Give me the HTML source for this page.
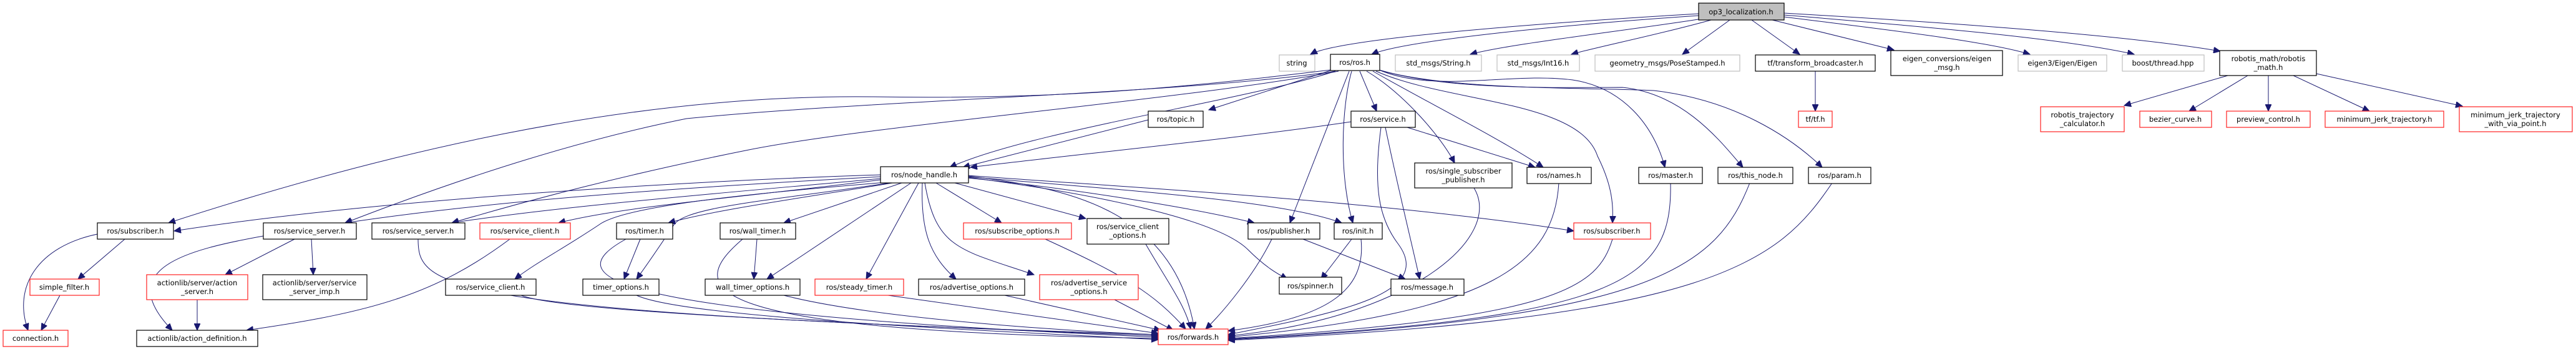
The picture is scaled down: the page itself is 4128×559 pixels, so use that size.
<!DOCTYPE html>
<html><head><meta charset="utf-8"><style>
html,body{margin:0;padding:0;background:#fff;}
svg{display:block;}
text{font-family:"DejaVu Sans","Liberation Sans",sans-serif;font-size:11.5px;fill:#000;text-anchor:middle;}
.k{fill:#fff;stroke:#000;stroke-width:1.2;}
.r{fill:#fff;stroke:#ff2020;stroke-width:1.2;}
.g{fill:#fff;stroke:#bfbfbf;stroke-width:1.2;}
.o{fill:#bfbfbf;stroke:#000;stroke-width:1.2;}
path.e{fill:none;stroke:#191970;stroke-width:1;marker-end:url(#a);}
</style></head><body>
<svg width="4128" height="559" viewBox="0 0 4128 559" xmlns="http://www.w3.org/2000/svg">
<defs><marker id="a" markerUnits="userSpaceOnUse" markerWidth="12" markerHeight="10" refX="11" refY="5" orient="auto"><path d="M0,0 L11,5 L0,10 z" fill="#191970" stroke="#191970"/></marker></defs>

<!-- edges from op3 -->
<path class="e" d="M2722,22 C2500,35 2150,60 2100,87"/>
<path class="e" d="M2722,25 C2500,40 2250,65 2198,87"/>
<path class="e" d="M2728,30 C2600,50 2420,70 2356,87"/>
<path class="e" d="M2742,32 C2660,55 2560,75 2518,87"/>
<path class="e" d="M2772,32 L2696,87"/>
<path class="e" d="M2807,32 L2884,87"/>
<path class="e" d="M2840,32 L3035,80"/>
<path class="e" d="M2859,27 C3000,45 3180,65 3253,87"/>
<path class="e" d="M2859,24 C3050,40 3300,60 3420,87"/>
<path class="e" d="M2859,21 C3100,35 3400,55 3558,82"/>
<path class="e" d="M2909,114 L2909,178"/>
<!-- robotis_math children -->
<path class="e" d="M3570,121 L3404,169"/>
<path class="e" d="M3602,121 L3508,178"/>
<path class="e" d="M3635,121 L3635,178"/>
<path class="e" d="M3675,121 L3797,178"/>
<path class="e" d="M3712,118 L3946,170"/>

<!-- ros.h children -->
<path class="e" d="M2179,114 L2206,178"/>
<path class="e" d="M2190,114 C2250,150 2310,220 2331,261"/>
<path class="e" d="M2200,114 C2280,160 2400,220 2473,268"/>
<path class="e" d="M2205,114 C2320,165 2530,160 2560,250 C2585,300 2585,330 2584,357"/>
<path class="e" d="M2210,112 C2300,150 2420,115 2520,128 C2600,140 2650,200 2668,268"/>
<path class="e" d="M2210,112 C2320,145 2500,140 2600,140 C2700,150 2760,230 2793,268"/>
<path class="e" d="M2210,112 C2320,145 2550,140 2650,145 C2780,160 2870,220 2920,268"/>
<path class="e" d="M2166,114 C2150,170 2145,280 2168,357"/>
<path class="e" d="M2162,114 L2067,357"/>
<path class="e" d="M2132,113 L1937,176"/>
<path class="e" d="M2140,114 C2000,160 1650,210 1522,268"/>
<path class="e" d="M2132,112 C1900,140 1700,160 1400,155 C1000,150 600,250 270,357"/>
<path class="e" d="M2140,114 C1900,150 1400,160 1100,190 C900,230 700,300 553,357"/>
<path class="e" d="M2145,114 C1900,160 1400,200 1200,240 C1000,280 850,320 724,357"/>
<!-- topic, service -->
<path class="e" d="M1840,192 L1543,268"/>
<path class="e" d="M2165,195 C2000,220 1700,250 1555,268"/>
<path class="e" d="M2255,204 L2460,268"/>
<path class="e" d="M2220,204 C2240,300 2260,380 2275,447"/>
<path class="e" d="M2213,204 C2200,300 2210,350 2240,390 C2300,470 2150,500 1968,536"/>
<path class="e" d="M2362,301 C2410,380 2260,510 1968,538"/>
<path class="e" d="M2498,293 C2490,420 2400,500 1968,540"/>
<path class="e" d="M2584,383 C2560,460 2500,510 1968,542"/>
<path class="e" d="M2677,293 C2680,450 2600,510 1968,543"/>
<path class="e" d="M2804,293 C2750,430 2650,510 1968,544"/>
<path class="e" d="M2936,293 C2850,420 2750,510 1968,545"/>
<!-- init, publisher -->
<path class="e" d="M2166,383 L2117,447"/>
<path class="e" d="M2181,383 C2190,470 2120,510 1968,530"/>
<path class="e" d="M2088,383 L2252,447"/>
<path class="e" d="M2038,383 C2010,440 1960,500 1932,527"/>

<!-- node_handle children -->
<path class="e" d="M1411,280 C1100,290 600,320 279,370"/>
<path class="e" d="M1411,283 C1100,300 800,320 553,357"/>
<path class="e" d="M1411,286 C1150,310 900,330 724,357"/>
<path class="e" d="M1411,288 C1200,315 1000,330 895,357"/>
<path class="e" d="M1420,292 C1200,310 1000,330 960,360 C900,400 860,420 825,447"/>
<path class="e" d="M1430,293 C1300,315 1150,335 1071,357"/>
<path class="e" d="M1425,293 C1250,320 1100,330 1080,360 C1060,390 1040,420 1020,447"/>
<path class="e" d="M1445,293 L1256,357"/>
<path class="e" d="M1460,293 L1229,447"/>
<path class="e" d="M1472,293 L1388,447"/>
<path class="e" d="M1478,293 C1475,370 1490,410 1532,447"/>
<path class="e" d="M1482,293 C1500,400 1540,400 1657,440"/>
<path class="e" d="M1500,293 L1605,357"/>
<path class="e" d="M1530,293 L1740,350"/>
<path class="e" d="M1551,285 C1700,300 1900,330 2010,357"/>
<path class="e" d="M1551,282 C1700,300 1880,330 1914,527"/>
<path class="e" d="M1551,281 C1800,300 2200,320 2522,370"/>
<path class="e" d="M1551,283 C1800,305 2050,320 2150,357"/>
<path class="e" d="M1551,284 C1750,310 1950,350 2000,400 C2030,430 2050,440 2063,447"/>

<!-- lower-left -->
<path class="e" d="M200,383 L125,447"/>
<path class="e" d="M156,375 C60,395 20,460 45,529"/>
<path class="e" d="M96,473 L66,529"/>
<path class="e" d="M472,383 L361,440"/>
<path class="e" d="M499,383 L502,440"/>
<path class="e" d="M422,378 C300,400 180,430 276,529"/>
<path class="e" d="M316,480 L316,529"/>
<path class="e" d="M817,383 C700,470 600,500 395,529"/>
<path class="e" d="M670,383 C670,460 700,500 1856,536"/>
<path class="e" d="M835,473 C900,500 1400,520 1856,538"/>
<path class="e" d="M1026,383 L1000,447"/>
<path class="e" d="M1003,383 C900,440 930,500 1856,540"/>
<path class="e" d="M1213,383 L1208,447"/>
<path class="e" d="M1190,383 C1100,460 1100,530 1856,542"/>
<path class="e" d="M1020,473 C1100,510 1600,530 1856,544"/>
<path class="e" d="M1256,473 C1400,510 1700,530 1856,536"/>
<path class="e" d="M1423,473 L1856,534"/>
<path class="e" d="M1610,473 L1860,529"/>
<path class="e" d="M1786,480 L1880,529"/>
<path class="e" d="M1675,383 C1800,440 1850,470 1900,527"/>
<path class="e" d="M1836,391 C1870,450 1900,490 1908,527"/>

<!-- nodes -->
<g>
<rect class="o" x="2722" y="5" width="137" height="27"/><text x="2790" y="23">op3_localization.h</text>
<rect class="g" x="2050" y="88" width="57" height="26"/><text x="2078" y="105">string</text>
<rect class="k" x="2132" y="87" width="79" height="26"/><text x="2171" y="104">ros/ros.h</text>
<rect class="g" x="2236" y="88" width="138" height="26"/><text x="2305" y="105">std_msgs/String.h</text>
<rect class="g" x="2399" y="88" width="132" height="26"/><text x="2465" y="105">std_msgs/Int16.h</text>
<rect class="g" x="2556" y="88" width="232" height="26"/><text x="2672" y="105">geometry_msgs/PoseStamped.h</text>
<rect class="k" x="2813" y="88" width="192" height="26"/><text x="2909" y="105">tf/transform_broadcaster.h</text>
<rect class="k" x="3030" y="81" width="179" height="40"/><text x="3120" y="98">eigen_conversions/eigen</text><text x="3120" y="112">_msg.h</text>
<rect class="g" x="3234" y="88" width="142" height="26"/><text x="3305" y="105">eigen3/Eigen/Eigen</text>
<rect class="g" x="3401" y="88" width="131" height="26"/><text x="3466" y="105">boost/thread.hpp</text>
<rect class="k" x="3557" y="81" width="155" height="40"/><text x="3635" y="98">robotis_math/robotis</text><text x="3635" y="112">_math.h</text>
<rect class="r" x="2882" y="178" width="54" height="26"/><text x="2909" y="195">tf/tf.h</text>
<rect class="r" x="3270" y="171" width="134" height="40"/><text x="3337" y="188">robotis_trajectory</text><text x="3337" y="202">_calculator.h</text>
<rect class="r" x="3429" y="178" width="115" height="26"/><text x="3486" y="195">bezier_curve.h</text>
<rect class="r" x="3568" y="178" width="134" height="26"/><text x="3635" y="195">preview_control.h</text>
<rect class="r" x="3726" y="178" width="190" height="26"/><text x="3821" y="195">minimum_jerk_trajectory.h</text>
<rect class="r" x="3941" y="171" width="181" height="40"/><text x="4031" y="188">minimum_jerk_trajectory</text><text x="4031" y="202">_with_via_point.h</text>
<rect class="k" x="1840" y="178" width="88" height="26"/><text x="1884" y="195">ros/topic.h</text>
<rect class="k" x="2165" y="178" width="103" height="26"/><text x="2216" y="195">ros/service.h</text>
<rect class="k" x="1411" y="267" width="141" height="26"/><text x="1481" y="284">ros/node_handle.h</text>
<rect class="k" x="2267" y="261" width="156" height="40"/><text x="2345" y="278">ros/single_subscriber</text><text x="2345" y="292">_publisher.h</text>
<rect class="k" x="2447" y="268" width="103" height="26"/><text x="2498" y="285">ros/names.h</text>
<rect class="k" x="2626" y="268" width="102" height="26"/><text x="2677" y="285">ros/master.h</text>
<rect class="k" x="2753" y="268" width="120" height="26"/><text x="2813" y="285">ros/this_node.h</text>
<rect class="k" x="2898" y="268" width="100" height="26"/><text x="2948" y="285">ros/param.h</text>
<rect class="k" x="156" y="357" width="122" height="26"/><text x="217" y="374">ros/subscriber.h</text>
<rect class="k" x="422" y="357" width="149" height="26"/><text x="496" y="374">ros/service_server.h</text>
<rect class="k" x="596" y="357" width="149" height="26"/><text x="670" y="374">ros/service_server.h</text>
<rect class="r" x="769" y="357" width="145" height="26"/><text x="841" y="374">ros/service_client.h</text>
<rect class="k" x="988" y="357" width="90" height="26"/><text x="1033" y="374">ros/timer.h</text>
<rect class="k" x="1154" y="357" width="121" height="26"/><text x="1214" y="374">ros/wall_timer.h</text>
<rect class="r" x="1544" y="357" width="173" height="26"/><text x="1630" y="374">ros/subscribe_options.h</text>
<rect class="k" x="1742" y="350" width="131" height="41"/><text x="1807" y="367">ros/service_client</text><text x="1807" y="381">_options.h</text>
<rect class="k" x="2000" y="357" width="115" height="26"/><text x="2057" y="374">ros/publisher.h</text>
<rect class="k" x="2138" y="357" width="77" height="26"/><text x="2176" y="374">ros/init.h</text>
<rect class="r" x="2522" y="357" width="123" height="26"/><text x="2583" y="374">ros/subscriber.h</text>
<rect class="r" x="48" y="447" width="111" height="26"/><text x="103" y="464">simple_filter.h</text>
<rect class="r" x="235" y="440" width="162" height="40"/><text x="316" y="457">actionlib/server/action</text><text x="316" y="471">_server.h</text>
<rect class="k" x="421" y="440" width="167" height="40"/><text x="504" y="457">actionlib/server/service</text><text x="504" y="471">_server_imp.h</text>
<rect class="k" x="714" y="447" width="145" height="26"/><text x="786" y="464">ros/service_client.h</text>
<rect class="k" x="934" y="447" width="122" height="26"/><text x="995" y="464">timer_options.h</text>
<rect class="k" x="1130" y="447" width="152" height="26"/><text x="1206" y="464">wall_timer_options.h</text>
<rect class="r" x="1306" y="447" width="142" height="26"/><text x="1377" y="464">ros/steady_timer.h</text>
<rect class="k" x="1472" y="447" width="170" height="26"/><text x="1557" y="464">ros/advertise_options.h</text>
<rect class="r" x="1666" y="440" width="158" height="40"/><text x="1745" y="457">ros/advertise_service</text><text x="1745" y="471">_options.h</text>
<rect class="k" x="2050" y="444" width="100" height="27"/><text x="2100" y="462">ros/spinner.h</text>
<rect class="k" x="2229" y="447" width="117" height="26"/><text x="2287" y="464">ros/message.h</text>
<rect class="r" x="5" y="529" width="104" height="26"/><text x="57" y="546">connection.h</text>
<rect class="k" x="219" y="529" width="194" height="26"/><text x="316" y="546">actionlib/action_definition.h</text>
<rect class="r" x="1856" y="527" width="112" height="25"/><text x="1912" y="544">ros/forwards.h</text>
</g>
</svg>
</body></html>
